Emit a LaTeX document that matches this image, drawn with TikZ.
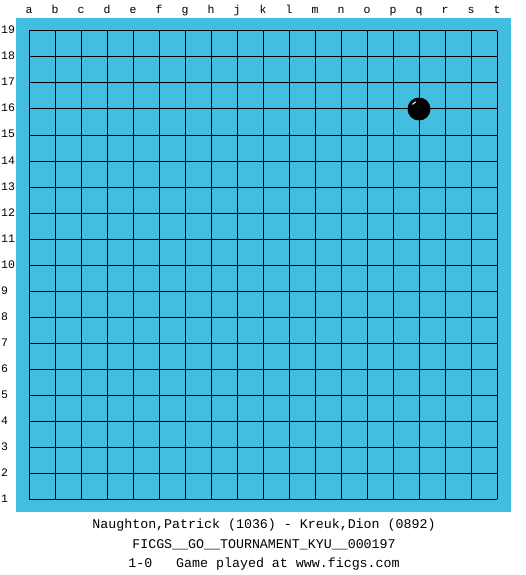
\documentclass[tikz,border=0pt]{standalone}
\usepackage{fontspec}
\setmonofont{Liberation Mono}
\usepackage{tikz}
\tikzset{>=latex}
\definecolor{boardblue}{RGB}{66,190,224}
\tikzset{
  coordlbl/.style={font=\ttfamily\fontsize{11.5}{11.5}\selectfont, inner sep=0pt},
  infolbl/.style={font=\ttfamily\fontsize{13.3}{13.3}\selectfont, inner sep=0pt},
  gridline/.style={line width=1pt},
  blackstone/.style={circle, fill=black, minimum size=23pt, inner sep=0pt}
}

\begin{document}
\begin{tikzpicture}[x=1pt,y=-1pt]
\useasboundingbox (0,0) rectangle (525,575);
% board
\fill [boardblue] (16,18) rectangle (511,512);
\foreach \k in {0,...,18} {
  \draw [gridline] (29+\k*26,31) -- (29+\k*26,499);
  \draw [gridline] (29,31+\k*26) -- (497,31+\k*26);
}
% column letters
\foreach \c [count=\k from 0] in {a,b,c,d,e,f,g,h,j,k,l,m,n,o,p,q,r,s,t}
  \node [coordlbl, anchor=base] (col-\c) at (29+\k*26,14) {\c};
% row numbers
\foreach \n [count=\k from 0] in {19,18,...,1}
  \node [coordlbl, anchor=base west] (row-\n) at (1,34+\k*26) {\n};
% stone on q16
\node [blackstone] (stone) at (419,109) {};
\draw [white, line width=1pt] (stone.center) ++(215:8) arc [start angle=215, end angle=245, radius=8];
% game info
\node [infolbl] (players) at (264,525) {Naughton,Patrick (1036) - Kreuk,Dion (0892)};
\node [infolbl] (event) at (264,545) {FICGS\_\_GO\_\_TOURNAMENT\_KYU\_\_000197};
\node [infolbl] (result) at (264,564) {1-0\ \ \ Game played at www.ficgs.com};
\end{tikzpicture}
\end{document}
